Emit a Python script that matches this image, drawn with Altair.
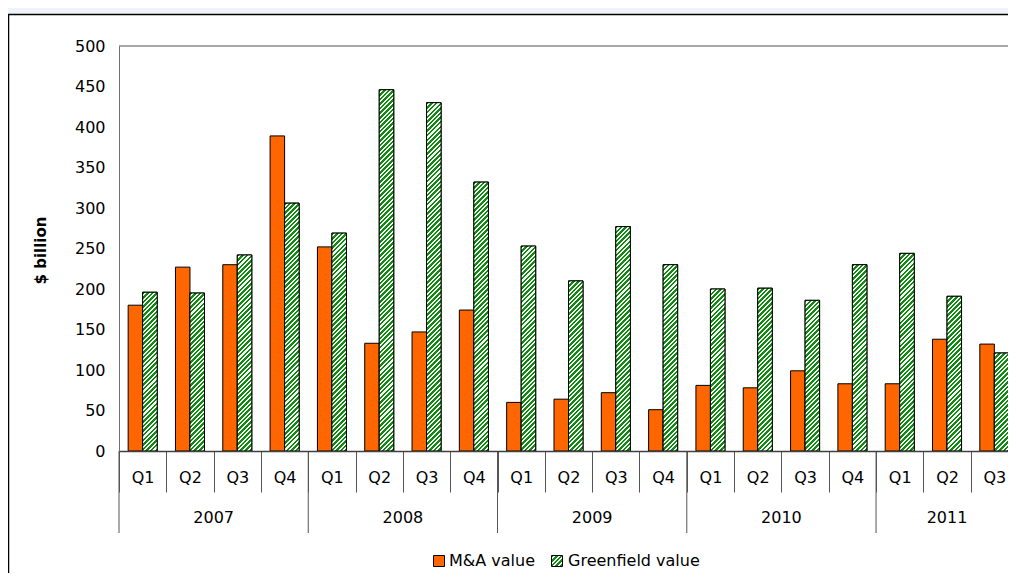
import altair as alt
import pandas as pd

# ---------------- data ----------------
years = ["2007", "2008", "2009", "2010", "2011"]
quarters_per_year = [4, 4, 4, 4, 3]
quarter_names = ["Q1", "Q2", "Q3", "Q4"]
series_names = ["M&A value", "Greenfield value"]
ma_values = [180, 227, 230, 389, 252, 133, 147, 174, 60, 64, 72, 51, 81, 78, 99, 83, 83, 138, 132]
gf_values = [196, 195, 242, 306, 269, 446, 430, 332, 253, 210, 277, 230, 200, 201, 186, 230, 244, 191, 121]
y_ticks = [0, 50, 100, 150, 200, 250, 300, 350, 400, 450, 500]

# ---------------- layout / style ----------------
W, H = 899, 405
ORANGE = "#ff6600"
GREEN = "#0e8c0e"
FONT = "DejaVu Sans"
PO = 0.63  # outer padding of the offset scale

qids = []
for yr, n in zip(years, quarters_per_year):
    for q in quarter_names[:n]:
        qids.append(f"{yr} {q}")

rows = []
for qid, a, g in zip(qids, ma_values, gf_values):
    rows.append({"q": qid, "series": series_names[0], "value": a})
    rows.append({"q": qid, "series": series_names[1], "value": g})
bars_df = pd.DataFrame(rows)

year_rows = []
start = 0
for yr, n in zip(years, quarters_per_year):
    year_rows.append({"year": yr, "first": qids[start], "mid": qids[start + n // 2], "odd": n % 2})
    start += n
years_df = pd.DataFrame(year_rows)
legend_df = pd.DataFrame({"series": series_names})
one_df = pd.DataFrame({"k": [0]})

# stripe gradient (diagonal "/" hatching)
L = 400.0
N = 87
FRAC = 0.55
stops = []
for i in range(N):
    a = i / N
    b = (i + FRAC) / N
    c = (i + 1) / N
    stops += [(a, GREEN), (b, GREEN), (b, "#ffffff"), (c, "#ffffff")]
stops_expr = ",".join(f"{{offset:{o:.5f},color:'{col}'}}" for o, col in stops)
bw = (W / len(qids)) / (2 + 2 * PO)
h_expr = f"(datum.value*{H/500:.6f})"
den = f"({bw:.4f}*{bw:.4f}+{h_expr}*{h_expr})"
grad_expr = (
    f"{{gradient:'linear',x1:0,y1:0,x2:{L}*{bw:.4f}/{den},y2:{L}*{h_expr}/{den},"
    f"stops:[{stops_expr}]}}"
)
sw = 11.0
legend_grad = {
    "gradient": "linear", "x1": 0, "y1": 0,
    "x2": L * sw / (2 * sw * sw), "y2": L * sw / (2 * sw * sw),
    "stops": [{"offset": o, "color": col} for o, col in stops],
}

x_scale = alt.Scale(domain=qids, paddingInner=0, paddingOuter=0)
off_scale = alt.Scale(domain=series_names, paddingInner=0, paddingOuter=PO)
y_scale = alt.Scale(domain=[0, 500], nice=False)

x_axis = alt.Axis(
    title=None, labelExpr="split(datum.label, ' ')[1]", tickBand="extent",
    tickSize=41, tickColor="#555555", domainColor="#404040", domainWidth=1.5,
    labelFont=FONT, labelFontSize=16, labelColor="black", labelAngle=0,
    labelPadding=-15, labelBaseline="middle", grid=False, zindex=1,
)
y_axis = alt.Axis(
    values=y_ticks, ticks=False, grid=False, labelPadding=14, domainColor="#707070",
    labelFont=FONT, labelFontSize=16, labelColor="black",
    title="$ billion", titleFont=FONT, titleFontSize=15, titleFontWeight="bold",
    titleColor="black", titleAngle=-90, titleX=-79, titleY=204,
    titleAlign="center", titleBaseline="middle", zindex=1,
)

X = alt.X("q:N", scale=x_scale, axis=x_axis, sort=qids)

panel = alt.Chart(one_df).mark_rect(fill="white", stroke="black", strokeWidth=1.5).encode(
    x=alt.value(-110.5), x2=alt.value(1200), y=alt.value(-31.5), y2=alt.value(800)
)
top_border = alt.Chart(one_df).mark_rule(stroke="#a8a8a8", strokeWidth=2).encode(
    x=alt.value(0), x2=alt.value(W), y=alt.value(0)
)

bars = alt.Chart(bars_df).mark_bar(stroke="black", strokeWidth=1).encode(
    x=X,
    xOffset=alt.XOffset("series:N", scale=off_scale, sort=series_names),
    y=alt.Y("value:Q", scale=y_scale, axis=y_axis, stack=None),
    color=alt.Color("series:N", scale=alt.Scale(domain=series_names, range=[ORANGE, GREEN]), legend=None),
)

hatch = alt.Chart(bars_df).transform_filter(
    alt.datum.series == series_names[1]
).mark_bar(stroke="black", strokeWidth=1, fill={"expr": grad_expr}).encode(
    x=X,
    xOffset=alt.XOffset("series:N", scale=off_scale, sort=series_names),
    y=alt.Y("value:Q", scale=y_scale, axis=y_axis, stack=None),
)

dividers = alt.Chart(years_df).mark_rule(stroke="#555555", strokeWidth=1).encode(
    x=alt.X("first:N", scale=x_scale, axis=x_axis, bandPosition=0),
    y=alt.value(H), y2=alt.value(H + 82),
)

year_even = alt.Chart(years_df).transform_filter("datum.odd == 0").mark_text(
    font=FONT, fontSize=16, color="black", baseline="middle"
).encode(
    x=alt.X("mid:N", scale=x_scale, axis=x_axis, bandPosition=0),
    y=alt.value(H + 67), text="year:N",
)
year_odd = alt.Chart(years_df).transform_filter("datum.odd == 1").mark_text(
    font=FONT, fontSize=16, color="black", baseline="middle"
).encode(
    x=alt.X("mid:N", scale=x_scale, axis=x_axis, bandPosition=0.5),
    y=alt.value(H + 67), text="year:N",
)

LEG_Y = 515
leg_sq1 = alt.Chart(one_df).mark_rect(fill=ORANGE, stroke="black", strokeWidth=1).encode(
    x=alt.value(314.5), x2=alt.value(325.5), y=alt.value(LEG_Y - 5.5), y2=alt.value(LEG_Y + 5.5)
)
leg_sq2 = alt.Chart(one_df).mark_rect(fill=legend_grad, stroke="black", strokeWidth=1).encode(
    x=alt.value(432.5), x2=alt.value(443.5), y=alt.value(LEG_Y - 5.5), y2=alt.value(LEG_Y + 5.5)
)
leg_t1 = alt.Chart(legend_df).transform_filter(alt.datum.series == series_names[0]).mark_text(
    font=FONT, fontSize=16, color="black", align="left", baseline="middle"
).encode(x=alt.value(330), y=alt.value(LEG_Y), text="series:N")
leg_t2 = alt.Chart(legend_df).transform_filter(alt.datum.series == series_names[1]).mark_text(
    font=FONT, fontSize=16, color="black", align="left", baseline="middle"
).encode(x=alt.value(449), y=alt.value(LEG_Y), text="series:N")

chart = alt.layer(
    panel, top_border, bars, hatch, dividers, year_even, year_odd,
    leg_sq1, leg_sq2, leg_t1, leg_t2,
).properties(
    width=W, height=H,
    padding={"left": 111, "top": 38, "right": -10, "bottom": 122},
    autosize=alt.AutoSizeParams(type="none"),
    background="#eef4f9",
).configure_view(stroke=None)

chart.save("out.html", embed_options={"renderer": "svg", "actions": False})
